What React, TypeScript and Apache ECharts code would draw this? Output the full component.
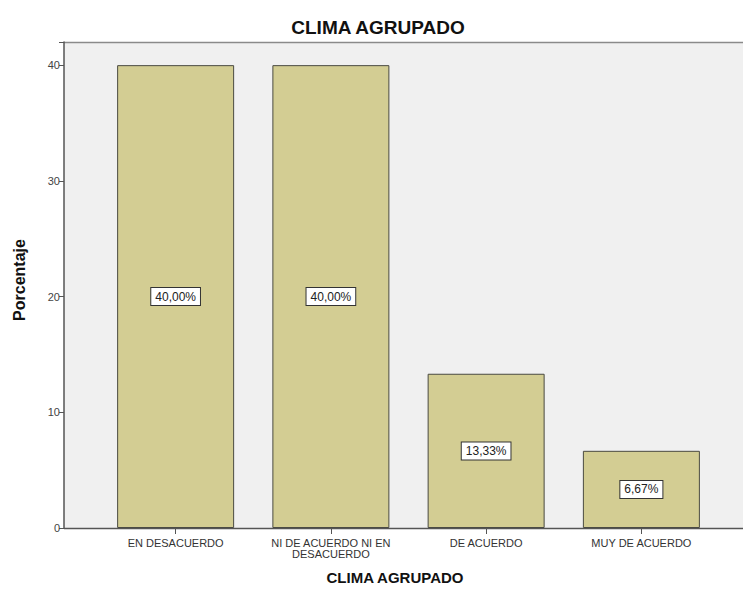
import React, { useEffect, useRef } from "react";
import * as echarts from "echarts";

const categories = ["EN DESACUERDO", "NI DE ACUERDO NI EN\nDESACUERDO", "DE ACUERDO", "MUY DE ACUERDO"];
const percentages = [40.0, 40.0, 13.33, 6.67];
const yTicks = [0, 10, 20, 30, 40];
const chartTitle = "CLIMA AGRUPADO";
const xTitle = "CLIMA AGRUPADO";
const yTitle = "Porcentaje";

export default function App() {
  const ref = useRef<HTMLDivElement>(null);
  useEffect(() => {
    document.body.style.margin = "0";
    const chart = echarts.init(ref.current!, null, { renderer: "svg" });
    const font = "Liberation Sans, Arial, sans-serif";
    chart.setOption({
      animation: false,
      backgroundColor: "#ffffff",
      grid: { left: 98, right: 24, top: 42, bottom: 68, containLabel: false },
      graphic: [
        { type: "rect", z: -100, shape: { x: 64, y: 42, width: 679, height: 486 }, style: { fill: "#f0f0f0" }, silent: true },
        { type: "line", z: -90, shape: { x1: 64, y1: 42.5, x2: 743, y2: 42.5 }, style: { stroke: "#8a8a8a", lineWidth: 1.5 }, silent: true },
        { type: "line", z: 50, shape: { x1: 64, y1: 528.5, x2: 743, y2: 528.5 }, style: { stroke: "#555555", lineWidth: 1.5 }, silent: true },
        { type: "text", x: 378, y: 27, style: { text: chartTitle, font: `bold 19px ${font}`, fill: "#111", textAlign: "center", textVerticalAlign: "middle" } },
        { type: "text", x: 395, y: 577, style: { text: xTitle, font: `bold 15px ${font}`, fill: "#111", textAlign: "center", textVerticalAlign: "middle" } },
        { type: "text", x: 19, y: 280, rotation: Math.PI / 2, style: { text: yTitle, font: `bold 16px ${font}`, fill: "#111", textAlign: "center", textVerticalAlign: "middle" } },
      ],
      xAxis: {
        type: "category",
        data: categories,
        axisLine: { show: false },
        axisTick: { show: true, alignWithLabel: true, length: 6, lineStyle: { color: "#555", width: 1 } },
        axisLabel: { color: "#333", fontSize: 11, fontFamily: font, margin: 9, lineHeight: 11, interval: 0 },
        splitLine: { show: false },
      },
      yAxis: {
        type: "value",
        min: 0,
        max: 42,
        interval: 10,
        offset: 34,
        axisLine: { show: true, lineStyle: { color: "#555", width: 1.5 } },
        axisTick: { show: true, length: 5, lineStyle: { color: "#555" } },
        axisLabel: {
          color: "#444", fontSize: 11, fontFamily: font, margin: 4,
          formatter: (v: number) => (yTicks.includes(v) ? String(v) : ""),
        },
        splitLine: { show: false },
      },
      series: [
        {
          type: "bar",
          data: percentages,
          barWidth: 117,
          itemStyle: { color: "#d3cd93", borderColor: "#4a4a40", borderWidth: 1 },
          label: {
            show: true,
            position: "inside",
            formatter: (p: any) => p.value.toFixed(2).replace(".", ",") + "%",
            color: "#222",
            fontSize: 12,
            fontFamily: font,
            backgroundColor: "#ffffff",
            borderColor: "#333",
            borderWidth: 1,
            padding: [3, 4, 2, 4],
          },
        },
      ],
    });
    return () => chart.dispose();
  }, []);
  return <div ref={ref} style={{ width: 743, height: 596 }} />;
}
